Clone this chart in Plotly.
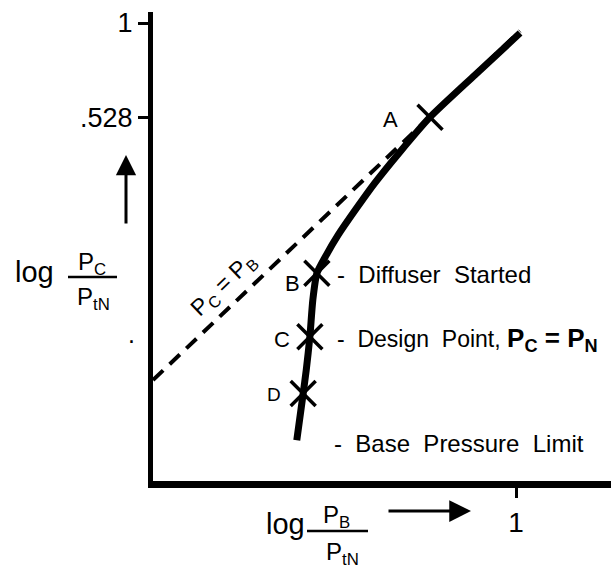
import math
import plotly.graph_objects as go

curve_pb = [1.028, 0.757, 0.558, 0.455, 0.384, 0.336, 0.299, 0.276, 0.259, 0.252, 0.247, 0.241, 0.236, 0.226]
curve_pc = [0.934, 0.703, 0.528, 0.417, 0.338, 0.281, 0.237, 0.207, 0.183, 0.153, 0.119, 0.095, 0.081, 0.059]
dashed_pb = [0.0852, 1.028]
dashed_pc = [0.0887, 0.947]
point_names = ["A", "B", "C", "D"]
point_pb = [0.558, 0.259, 0.247, 0.236]
point_pc = [0.528, 0.183, 0.119, 0.081]
ytick_vals = [1, 0.528]
ytick_text = ["1", ".528"]
ydot_vals = [0.121]
ydot_text = ["."]
xtick_vals = [1]
xtick_text = ["1"]

FONT = "Liberation Sans, Arial, Helvetica, sans-serif"
W, H = 611, 572
ML, MR, MT, MB = 153, 0, 12, 91
PW, PH = W - ML - MR, H - MT - MB


def paper(xp, yp):
    return (xp - ML) / PW, (H - MB - yp) / PH


lg = math.log10


def ptxt(xp, yp, text, size, angle=0):
    x0, y0 = paper(xp, yp)
    return dict(x=x0, y=y0, xref="paper", yref="paper", text=text, showarrow=False,
                xanchor="center", yanchor="middle", textangle=angle,
                font=dict(size=size, family=FONT, color="black"))


fig = go.Figure()
fig.add_trace(go.Scatter(x=dashed_pb, y=dashed_pc, mode="lines",
                         line=dict(color="black", width=4, dash="14px,9px"),
                         hoverinfo="skip", showlegend=False))
fig.add_trace(go.Scatter(x=curve_pb, y=curve_pc, mode="lines",
                         line=dict(color="black", width=7, shape="spline", smoothing=0.6),
                         hoverinfo="skip", showlegend=False))
fig.add_trace(go.Scatter(x=point_pb, y=point_pc, mode="markers",
                         marker=dict(symbol="x-thin", size=25, line=dict(color="black", width=3.5)),
                         hoverinfo="skip", showlegend=False, cliponaxis=False))
# invisible trace to carry secondary y axis (dot tick)
fig.add_trace(go.Scatter(x=[point_pb[0]], y=[point_pc[0]], yaxis="y2", mode="markers",
                         marker=dict(opacity=0), hoverinfo="skip", showlegend=False))

ann = []
# point labels
lab_shift = {"A": (-40, -2, 22), "B": (-24, -10, 22), "C": (-28, -3, 22), "D": (-29, -1, 19)}
for n, px_, py_ in zip(point_names, point_pb, point_pc):
    dx, dy, fs = lab_shift[n]
    ann.append(dict(x=lg(px_), y=lg(py_), xref="x", yref="y", text=n, showarrow=False,
                    xanchor="center", yanchor="middle",
                    xshift=dx, yshift=dy, font=dict(size=fs, family=FONT, color="black")))

# right-hand descriptions
ann.append(dict(x=lg(point_pb[1]), y=lg(point_pc[1]), text="-  Diffuser  Started", showarrow=False,
                xanchor="left", yanchor="middle", xshift=18, yshift=-1,
                font=dict(size=24, family=FONT, color="black")))
ann.append(dict(x=lg(point_pb[2]), y=lg(point_pc[2]),
                text="-  Design  Point, <span style='font-size:26px'><b>P<sub>C</sub> = P<sub>N</sub></b></span>",
                showarrow=False, xanchor="left", yanchor="middle", xshift=25, yshift=-3,
                font=dict(size=23, family=FONT, color="black")))
ann.append(dict(x=lg(curve_pb[-1]), y=lg(curve_pc[-1]), text="-  Base  Pressure  Limit", showarrow=False,
                xanchor="left", yanchor="middle", xshift=35, yshift=-3,
                font=dict(size=24, family=FONT, color="black")))

# Pc = PB label along dashed line
ann.append(ptxt(223, 285, "P<sub>C</sub> = P<sub>B</sub>", 23, angle=-44))

# y-axis title pieces
ann.append(ptxt(34, 272, "log", 29))
ann.append(ptxt(92, 263, "P<sub>C</sub>", 24))
ann.append(ptxt(93, 298, "P<sub>tN</sub>", 24))
# x-axis title pieces
ann.append(ptxt(285, 524, "log", 29))
ann.append(ptxt(336, 516, "P<sub>B</sub>", 24))
ann.append(ptxt(342, 553, "P<sub>tN</sub>", 24))

# arrows
x0, y0 = paper(126, 155)
ann.append(dict(x=x0, y=y0, xref="paper", yref="paper", text="", showarrow=True, ax=0, ay=70,
                arrowhead=2, arrowwidth=3, arrowsize=1.35, arrowcolor="black", standoff=0))
x0, y0 = paper(471, 511)
ann.append(dict(x=x0, y=y0, xref="paper", yref="paper", text="", showarrow=True, ax=-84, ay=0,
                arrowhead=2, arrowwidth=3, arrowsize=1.45, arrowcolor="black", standoff=0))

shapes = []
xa, ya = paper(68, 277)
xb, _ = paper(117, 277)
shapes.append(dict(type="line", xref="paper", yref="paper", x0=xa, x1=xb, y0=ya, y1=ya,
                   line=dict(color="black", width=2.5)))
xa, ya = paper(307, 531)
xb, _ = paper(368, 531)
shapes.append(dict(type="line", xref="paper", yref="paper", x0=xa, x1=xb, y0=ya, y1=ya,
                   line=dict(color="black", width=2.5)))

SC = 339.4
xr = [(ML - 516) / SC, (W - MR - 516) / SC]
yr = [(23 - (H - MB)) / SC, (23 - MT) / SC]

fig.update_layout(
    width=W, height=H, margin=dict(l=ML, r=MR, t=MT, b=MB),
    paper_bgcolor="white", plot_bgcolor="white",
    showlegend=False,
    xaxis=dict(type="log", range=xr, showgrid=False, zeroline=False, showline=True,
               linecolor="black", linewidth=7, ticks="outside", ticklen=10, tickwidth=2.5,
               tickcolor="black", tickvals=xtick_vals, ticktext=xtick_text,
               tickfont=dict(size=28, family=FONT, color="black")),
    yaxis=dict(type="log", range=yr, showgrid=False, zeroline=False, showline=True,
               linecolor="black", linewidth=5, ticks="outside", ticklen=10, tickwidth=3,
               tickcolor="black", tickvals=ytick_vals, ticktext=ytick_text,
               tickfont=dict(size=27, family=FONT, color="black")),
    yaxis2=dict(type="log", range=yr, overlaying="y", side="left", showgrid=False,
                zeroline=False, showline=False, ticks="", tickvals=ydot_vals,
                ticktext=ydot_text, ticklabelstandoff=17,
                tickfont=dict(size=25, family=FONT, color="black")),
    annotations=ann, shapes=shapes,
)

fig.write_html("out.html")
